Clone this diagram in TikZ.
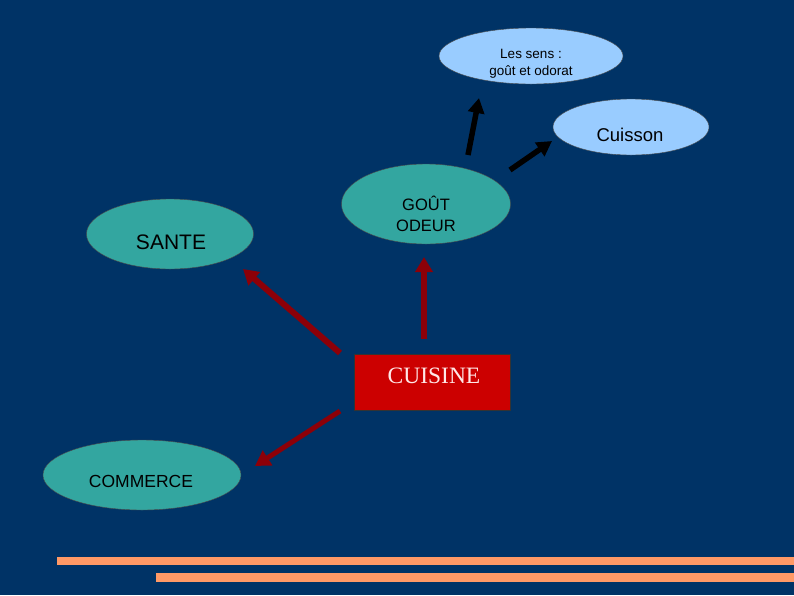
\documentclass[tikz,border=0pt]{standalone}
\usepackage{fontspec}
\setmainfont{Liberation Sans}
\newfontfamily\serifface{Liberation Serif}
\usetikzlibrary{shapes.geometric,arrows.meta}
\definecolor{bgblue}{RGB}{0,51,102}
\definecolor{lightblue}{RGB}{153,204,255}
\definecolor{tealfill}{RGB}{51,166,160}
\definecolor{boxred}{RGB}{204,0,0}
\definecolor{arrowred}{RGB}{140,0,8}
\definecolor{barorange}{RGB}{255,153,102}
\definecolor{palepink}{RGB}{255,232,232}
\tikzset{
  bubble/.style={ellipse, draw=black!70, line width=0.4pt, inner sep=0pt},
  lightbubble/.style={bubble, fill=lightblue},
  tealbubble/.style={bubble, fill=tealfill},
  label/.style={align=center, inner sep=0pt, text=black},
  redarrow/.style={draw=arrowred, line width=6pt, -{Triangle[length=15pt,width=17pt]}},
  blackarrow/.style={draw=black, line width=5.5pt, -{Triangle[length=15pt,width=16pt]}},
  bar/.style={fill=barorange, draw=none}
}
\begin{document}
\begin{tikzpicture}[x=1pt,y=-1pt]
\fill[bgblue] (0,0) rectangle (794,595);
\useasboundingbox (0,0) rectangle (794,595);

\node[lightbubble, minimum width=184pt, minimum height=56pt] (sens) at (531,56) {};
\node[label, font=\fontsize{13.5}{17}\selectfont] (senstext) at (531,64) {Les sens :\\goût et odorat};
\node[lightbubble, minimum width=156pt, minimum height=56pt] (cuisson) at (631,127) {};
\node[label, font=\fontsize{18.5}{20}\selectfont] (cuissontext) at (630,135) {Cuisson};
\node[tealbubble, minimum width=169pt, minimum height=80pt] (gout) at (426,204) {};
\node[label, font=\fontsize{16.5}{21}\selectfont] (gouttext) at (426,214) {GOÛT\\ODEUR};
\node[tealbubble, minimum width=167pt, minimum height=70pt] (sante) at (170,234) {};
\node[label, font=\fontsize{21}{24}\selectfont] (santetext) at (171,242) {SANTE};
\node[tealbubble, minimum width=198pt, minimum height=70pt] (commerce) at (142,475) {};
\node[label, font=\fontsize{17.5}{20}\selectfont] (commercetext) at (141,481) {COMMERCE};
\node[rectangle, fill=boxred, draw=black!80, line width=0.6pt, minimum width=156pt, minimum height=56pt, inner sep=0pt] (cuisine) at (432,382) {};
\node[label, text=palepink, font=\serifface\fontsize{23.5}{26}\selectfont] (cuisinetext) at (434,376) {CUISINE};

\coordinate (a1s) at (340,353); \coordinate (a1e) at (243,269);
\coordinate (a2s) at (424,339); \coordinate (a2e) at (424,257);
\coordinate (a3s) at (340,411); \coordinate (a3e) at (255,466);
\coordinate (b1s) at (468,155); \coordinate (b1e) at (479,98);
\coordinate (b2s) at (510,170); \coordinate (b2e) at (552,141);

\draw[redarrow] (a1s) -- (a1e);
\draw[redarrow] (a2s) -- (a2e);
\draw[redarrow, line width=5pt] (a3s) -- (a3e);
\draw[blackarrow] (b1s) -- (b1e);
\draw[blackarrow] (b2s) -- (b2e);

\fill[bar] (57,557) rectangle (794,565);
\fill[bar] (156,573) rectangle (794,582);
\end{tikzpicture}
\end{document}
